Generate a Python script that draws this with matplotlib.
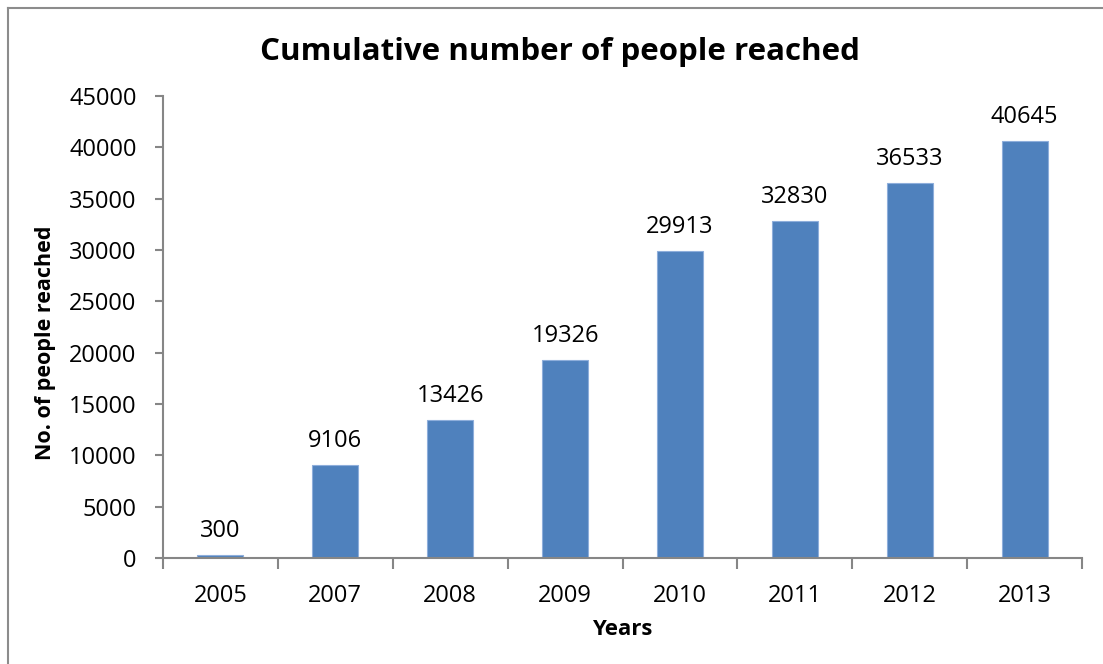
import matplotlib
matplotlib.use("Agg")
import matplotlib.pyplot as plt
from matplotlib.lines import Line2D

years = ["2005", "2007", "2008", "2009", "2010", "2011", "2012", "2013"]
people = [300, 9106, 13426, 19326, 29913, 32830, 36533, 40645]
yticks = [0, 5000, 10000, 15000, 20000, 25000, 30000, 35000, 40000, 45000]

plt.rcParams['font.family'] = ['Open Sans', 'DejaVu Sans']

W, H = 1103, 664
fig = plt.figure(figsize=(W / 100, H / 100), dpi=100)
ax = fig.add_axes([163 / W, 1 - 558 / H, (1082 - 163) / W, (558 - 96) / H])

x = list(range(len(years)))
bars = ax.bar(x, people, width=0.4, color="#4F81BD", edgecolor="#8EAEDB", linewidth=0.8)
for xi, v in zip(x, people):
    ax.annotate(str(v), (xi, v), xytext=(0, 8.5), textcoords="offset points",
                ha="center", va="bottom", fontsize=17)

ax.set_xlim(-0.5, len(years) - 0.5)
ax.set_ylim(0, 45000)
ax.set_yticks(yticks)
ax.set_yticklabels([str(t) for t in yticks])
ax.set_xticks(x)
ax.set_xticklabels(years)
ax.set_xticks([i - 0.5 for i in range(len(years) + 1)], minor=True)

for s in ["top", "right"]:
    ax.spines[s].set_visible(False)
for s in ["left", "bottom"]:
    ax.spines[s].set_color("#868686")
    ax.spines[s].set_linewidth(1.5)

ax.tick_params(axis="y", direction="out", length=6, width=1.5, color="#868686",
               labelsize=17, pad=13)
ax.tick_params(axis="x", which="major", length=0, labelsize=17, pad=19)
ax.tick_params(axis="x", which="minor", direction="out", length=8, width=1.5, color="#868686")

ax.set_xlabel("Years", fontsize=16, fontweight="bold")
ax.xaxis.set_label_coords(0.5, (558 - 635) / 462)
ax.xaxis.label.set_va("baseline")
ax.set_ylabel("No. of people reached", fontsize=15.5, fontweight="bold")
ax.yaxis.set_label_coords((56 - 163) / 919, (558 - 343) / 462)

fig.text(560 / W, 1 - 52 / H, "Cumulative number of people reached", ha="center", va="center",
         fontsize=22.5, fontweight="bold")

fig.add_artist(Line2D([8 / W, 8 / W], [0, 1 - 8 / H], transform=fig.transFigure,
                      color="#8C8C8C", linewidth=1.5))
fig.add_artist(Line2D([8 / W, 1], [1 - 8 / H, 1 - 8 / H], transform=fig.transFigure,
                      color="#8C8C8C", linewidth=1.5))

fig.savefig("out.png", dpi=100)
